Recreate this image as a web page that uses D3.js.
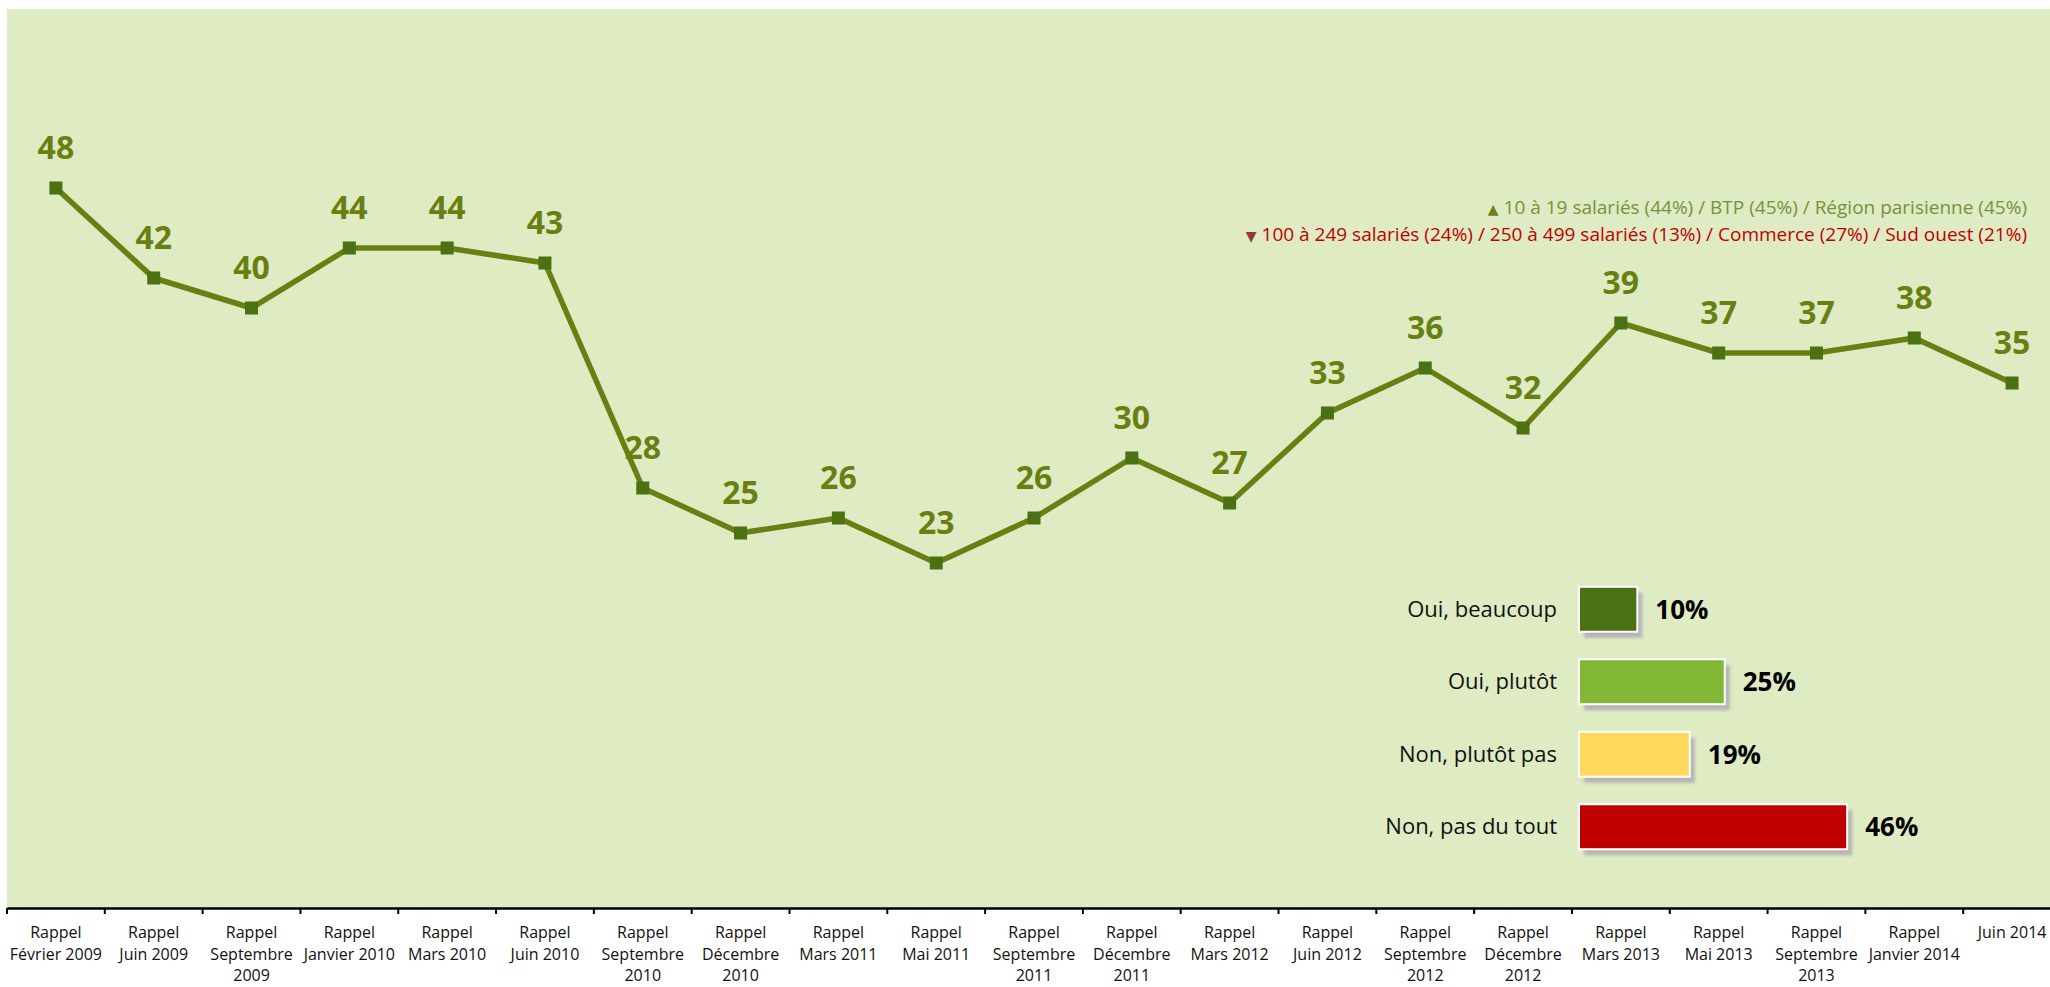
<!DOCTYPE html>
<html>
<head>
<meta charset="utf-8">
<script src="https://cdn.jsdelivr.net/npm/d3@7"></script>
<style>
	body { margin: 0; background: #fff; }
	svg { display: block; font-family: "Open Sans", sans-serif; }
</style>
</head>
<body>
<div id="graphic"></div>
<script>
// waves, one label per survey (lines split by "\n")
var waves = [
	"Rappel\nFévrier 2009", "Rappel\nJuin 2009", "Rappel\nSeptembre\n2009", "Rappel\nJanvier 2010",
	"Rappel\nMars 2010", "Rappel\nJuin 2010", "Rappel\nSeptembre\n2010", "Rappel\nDécembre\n2010",
	"Rappel\nMars 2011", "Rappel\nMai 2011", "Rappel\nSeptembre\n2011", "Rappel\nDécembre\n2011",
	"Rappel\nMars 2012", "Rappel\nJuin 2012", "Rappel\nSeptembre\n2012", "Rappel\nDécembre\n2012",
	"Rappel\nMars 2013", "Rappel\nMai 2013", "Rappel\nSeptembre\n2013", "Rappel\nJanvier 2014",
	"Juin 2014"
];
var oui_total = [48, 42, 40, 44, 44, 43, 28, 25, 26, 23, 26, 30, 27, 33, 36, 32, 39, 37, 37, 38, 35];

var answers = ["Oui, beaucoup", "Oui, plutôt", "Non, plutôt pas", "Non, pas du tout"];
var answer_pct = [10, 25, 19, 46];
var answer_colours = ["#4a7213", "#82b834", "#ffd95b", "#c00000"];

var note_up = "10 à 19 salariés (44%) / BTP (45%) / Région parisienne (45%)";
var note_down = "100 à 249 salariés (24%) / 250 à 499 salariés (13%) / Commerce (27%) / Sud ouest (21%)";

var width = 2050, height = 987;
var lineColour = "#6a7f12";
var markerColour = "#4a7213";

var svg = d3.select("#graphic").append("svg")
	.attr("width", width)
	.attr("height", height);

var defs = svg.append("defs");
var blur = defs.append("filter").attr("id", "shadow").attr("x", "-10%").attr("y", "-20%").attr("width", "130%").attr("height", "160%");
blur.append("feGaussianBlur").attr("stdDeviation", 1.5);

// plot background
svg.append("rect")
	.attr("x", 7).attr("y", 9)
	.attr("width", width - 7).attr("height", 899)
	.attr("fill", "#deebc3");

var x = d3.scaleBand().domain(waves).range([7, 2061]);
var y = d3.scaleLinear().domain([0, 60]).range([908, 8]);

// x axis: line, boundary ticks, multi-line labels
var xAxis = svg.append("g")
	.attr("class", "x axis")
	.attr("transform", "translate(0," + y(0) + ")")
	.call(d3.axisBottom(x).tickSize(0).tickSizeOuter(0));

xAxis.select(".domain").attr("stroke", "#000").attr("stroke-width", 2.5);
xAxis.selectAll(".tick text").remove();

var bounds = waves.map(function(d) { return x(d); }).concat([x(waves[waves.length - 1]) + x.bandwidth()]);
xAxis.selectAll(".bound")
	.data(bounds)
	.enter()
	.append("line")
	.attr("class", "bound")
	.attr("x1", function(d) { return d; })
	.attr("x2", function(d) { return d; })
	.attr("y1", 0).attr("y2", 6)
	.attr("stroke", "#000").attr("stroke-width", 2);

xAxis.selectAll(".tick")
	.append("text")
	.attr("y", 30)
	.attr("fill", "#111")
	.attr("font-size", 16)
	.attr("text-anchor", "middle")
	.attr("font-family", "Open Sans, sans-serif")
	.each(function(d) {
		var t = d3.select(this);
		d.split("\n").forEach(function(line, i) {
			t.append("tspan").attr("x", 0).attr("dy", i ? 21.5 : 0).text(line);
		});
	});

// the line
var line = d3.line()
	.x(function(d, i) { return x(waves[i]) + x.bandwidth() / 2; })
	.y(function(d) { return y(d); });

svg.append("path")
	.datum(oui_total)
	.attr("fill", "none")
	.attr("stroke", lineColour)
	.attr("stroke-width", 5.5)
	.attr("stroke-linejoin", "round")
	.attr("d", line);

svg.selectAll(".marker")
	.data(oui_total)
	.enter()
	.append("rect")
	.attr("class", "marker")
	.attr("x", function(d, i) { return x(waves[i]) + x.bandwidth() / 2 - 6.5; })
	.attr("y", function(d) { return y(d) - 6.5; })
	.attr("width", 13).attr("height", 13)
	.attr("fill", markerColour);

svg.selectAll(".value")
	.data(oui_total)
	.enter()
	.append("text")
	.attr("class", "value")
	.attr("x", function(d, i) { return x(waves[i]) + x.bandwidth() / 2; })
	.attr("y", function(d) { return y(d) - 29; })
	.attr("text-anchor", "middle")
	.attr("font-size", 32)
	.attr("font-weight", "bold")
	.attr("fill", lineColour)
	.text(function(d) { return d; });

// notes, top right
var notes = svg.append("g").attr("font-size", 19).attr("text-anchor", "end");
var n1 = notes.append("text").attr("x", 2027).attr("y", 214).attr("fill", "#76923c");
n1.append("tspan").attr("font-size", 14).attr("font-family", "DejaVu Sans").attr("fill", "#6e8014").text("▲");
n1.append("tspan").text("  " + note_up);
var n2 = notes.append("text").attr("x", 2027).attr("y", 241).attr("fill", "#c00000");
n2.append("tspan").attr("font-size", 14).attr("font-family", "DejaVu Sans").attr("fill", "#953735").text("▼");
n2.append("tspan").text(" " + note_down);

// answer bars, lower right
var bx = d3.scaleLinear().domain([0, 100]).range([1579, 2162]);
var by = d3.scaleBand().domain(answers).range([573, 863]).paddingInner(0.38).paddingOuter(0.19);

var rows = svg.selectAll(".answer")
	.data(answers)
	.enter()
	.append("g")
	.attr("class", "answer");

rows.append("rect")
	.attr("x", bx(0) + 5)
	.attr("y", function(d) { return by(d) + 6; })
	.attr("width", function(d, i) { return bx(answer_pct[i]) - bx(0); })
	.attr("height", by.bandwidth())
	.attr("fill", "#b5b5b5")
	.attr("filter", "url(#shadow)");

rows.append("rect")
	.attr("x", bx(0))
	.attr("y", function(d) { return by(d); })
	.attr("width", function(d, i) { return bx(answer_pct[i]) - bx(0); })
	.attr("height", by.bandwidth())
	.attr("fill", function(d, i) { return answer_colours[i]; })
	.attr("stroke", "#fff")
	.attr("stroke-width", 2);

rows.append("text")
	.attr("x", bx(0) - 22)
	.attr("y", function(d) { return by(d) + by.bandwidth() / 2; })
	.attr("dy", "0.35em")
	.attr("text-anchor", "end")
	.attr("font-size", 22)
	.attr("fill", "#111")
	.text(function(d) { return d; });

rows.append("text")
	.attr("x", function(d, i) { return bx(answer_pct[i]) + 18; })
	.attr("y", function(d) { return by(d) + by.bandwidth() / 2; })
	.attr("dy", "0.36em")
	.attr("font-size", 26)
	.attr("font-weight", "bold")
	.attr("fill", "#000")
	.text(function(d, i) { return answer_pct[i] + "%"; });
</script>
</body>
</html>
